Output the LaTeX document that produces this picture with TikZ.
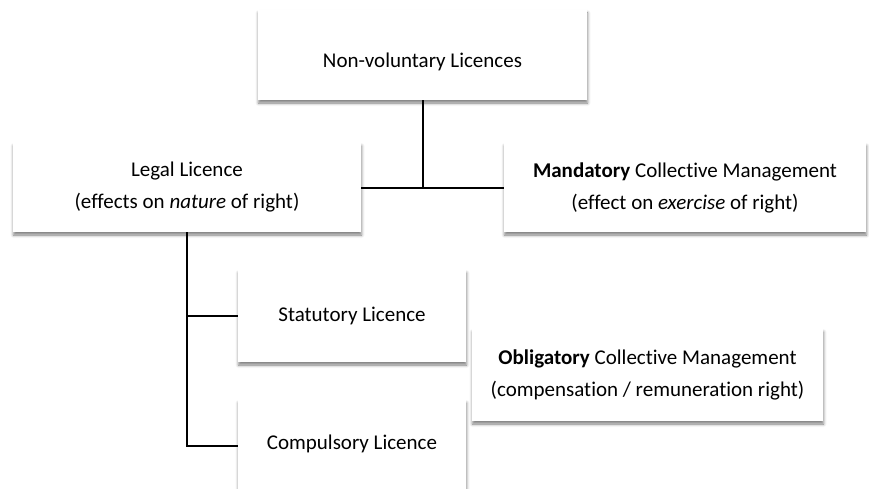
\documentclass[tikz,border=0pt]{standalone}
\usepackage{fontspec}
\setmainfont{Carlito}[Ligatures={NoCommon}]
\usetikzlibrary{shadows.blur}
\tikzset{
  txt/.style={font=\fontsize{21}{32}\selectfont, align=center},
  box/.style={fill=white, inner sep=0pt, txt,
    blur shadow={shadow xshift=0.5pt, shadow yshift=-3pt, shadow blur radius=3pt, shadow opacity=50}},
  conn/.style={line width=2pt, black}
}
\begin{document}
\begin{tikzpicture}[x=1pt,y=-1pt]
\useasboundingbox (0,0) rectangle (869,489);
\clip (0,0) rectangle (869,489);
\node[box, minimum width=329pt, minimum height=90pt,
  label={[txt, yshift=-7pt]center:Non-voluntary Licences}] (top) at (422.5,55) {};
\node[box, minimum width=348pt, minimum height=89pt] (legal) at (187,187.5) {Legal Licence\\(effects on \textit{nature} of right)};
\node[box, minimum width=362pt, minimum height=89pt] (mand) at (685,187.5) {\textbf{Mandatory} Collective Management\\(effect on \textit{exercise} of right)};
\node[box, minimum width=228pt, minimum height=92pt] (stat) at (352,316) {Statutory Licence};
\node[box, minimum width=228pt, minimum height=92pt,
  label={[txt, yshift=2pt]center:Compulsory Licence}] (comp) at (352,446) {};
\node[box, minimum width=351pt, minimum height=92pt] (oblig) at (647.5,375) {\textbf{Obligatory} Collective Management\\(compensation / remuneration right)};
\coordinate (j) at (top.south |- legal.east);
\draw[conn] (top.south) -- (j);
\draw[conn] (legal.east) -- (mand.west);
\draw[conn] (legal.south) -- (legal.south |- comp.west) -- (comp.west);
\draw[conn] (legal.south |- stat.west) -- (stat.west);
\end{tikzpicture}
\end{document}
